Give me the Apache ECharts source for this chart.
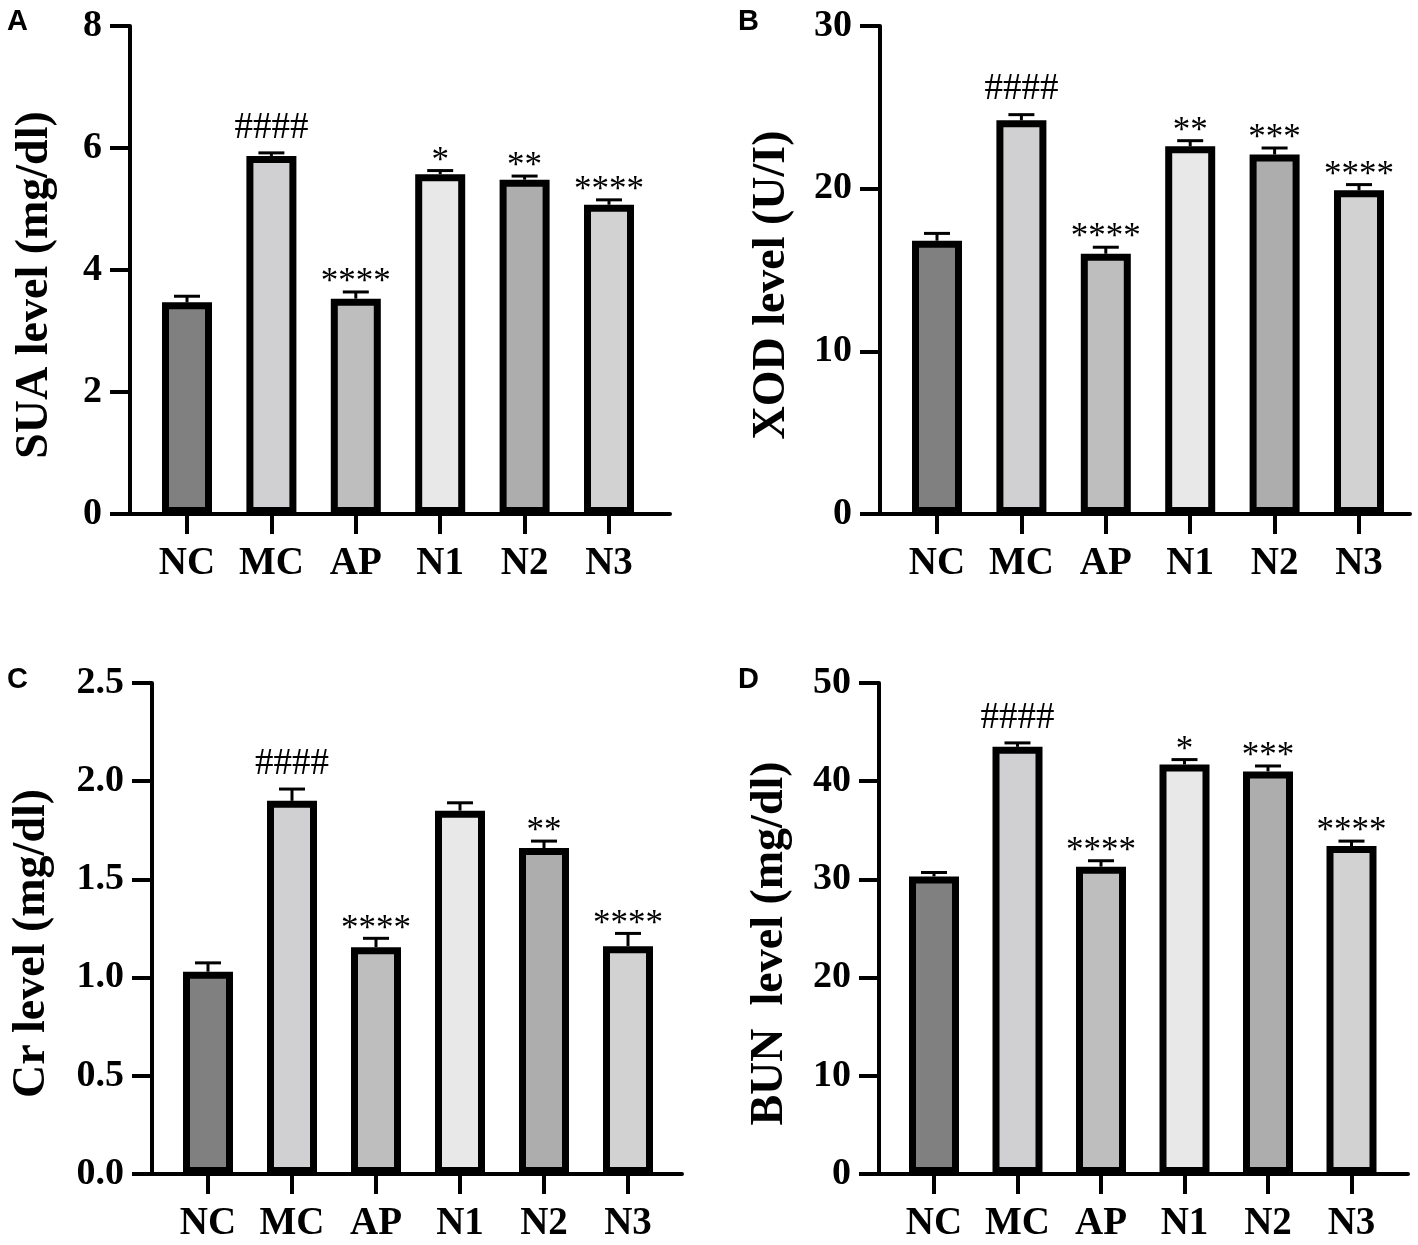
<!DOCTYPE html>
<html lang="en">
<head>
    <meta charset="utf-8">
    <title>SUA / XOD / Cr / BUN</title>
    <script src="https://cdn.jsdelivr.net/npm/echarts@6/dist/echarts.min.js"></script>
    <style>
        html, body { margin: 0; padding: 0; background: #fff; }
        #main { width: 1418px; height: 1245px; }
    </style>
</head>
<body>
<div id="main"></div>
<script type="text/javascript">
    var categories = ['NC', 'MC', 'AP', 'N1', 'N2', 'N3'];
    var barColors = ['#808080', '#d0d0d2', '#bebebe', '#e8e8e8', '#adadad', '#d2d2d2'];

    // A: SUA
    var suaMean = [3.47, 5.87, 3.53, 5.57, 5.48, 5.07];
    var suaErr = [0.10, 0.05, 0.11, 0.06, 0.06, 0.08];
    var suaMarks = ['', '####', '****', '*', '**', '****'];

    // B: XOD
    var xodMean = [16.8, 24.2, 16.0, 22.6, 22.1, 19.9];
    var xodErr = [0.45, 0.35, 0.40, 0.35, 0.40, 0.35];
    var xodMarks = ['', '####', '****', '**', '***', '****'];

    // C: Cr
    var crMean = [1.03, 1.90, 1.155, 1.85, 1.66, 1.16];
    var crErr = [0.045, 0.06, 0.045, 0.04, 0.035, 0.065];
    var crMarks = ['', '####', '****', '', '**', '****'];

    // D: BUN
    var bunMean = [30.3, 43.5, 31.3, 41.7, 41.0, 33.4];
    var bunErr = [0.4, 0.4, 0.6, 0.5, 0.55, 0.5];
    var bunMarks = ['', '####', '****', '*', '***', '****'];

    var serif = '"Liberation Serif", "Times New Roman", serif';

    // panel layout in px: letter pos, y axis x, first bar x, bar step, x axis end, top, bottom
    var panels = [
        {letter: 'A', lx: 7, ly: 7, name: 'SUA level (mg/dl)', mean: suaMean, err: suaErr, marks: suaMarks,
         max: 8, interval: 2, digits: 0, ax: 130, first: 187, step: 84.4, end: 670, top: 26, bottom: 514, gap: 72},
        {letter: 'B', lx: 738, ly: 7, name: 'XOD level (U/I)', mean: xodMean, err: xodErr, marks: xodMarks,
         max: 30, interval: 10, digits: 0, ax: 880, first: 937, step: 84.4, end: 1410, top: 26, bottom: 514, gap: 85},
        {letter: 'C', lx: 7, ly: 665, name: 'Cr level (mg/dl)', mean: crMean, err: crErr, marks: crMarks,
         max: 2.5, interval: 0.5, digits: 1, ax: 152, first: 208, step: 84, end: 682, top: 683, bottom: 1174, gap: 97},
        {letter: 'D', lx: 738, ly: 665, name: 'BUN  level (mg/dl)', mean: bunMean, err: bunErr, marks: bunMarks,
         max: 50, interval: 10, digits: 0, ax: 879, first: 934, step: 83.5, end: 1408, top: 683, bottom: 1174, gap: 86}
    ];

    var idx = categories.map(function (c, i) { return i; });

    var option = {
        animation: false,
        backgroundColor: '#fff',
        title: [],
        grid: [],
        xAxis: [],
        yAxis: [],
        series: []
    };

    panels.forEach(function (p, k) {
        option.title.push({
            text: p.letter, left: p.lx, top: p.ly, padding: 0,
            textStyle: {fontFamily: '"Liberation Sans", Arial, sans-serif', fontWeight: 'bold', fontSize: 29, color: '#000'}
        });
        option.grid.push({
            left: p.ax, top: p.top, width: p.end - p.ax, height: p.bottom - p.top
        });
        option.xAxis.push({
            type: 'value',
            gridIndex: k,
            min: -(p.first - p.ax) / p.step,
            max: 5 + (p.end - (p.first + 5 * p.step)) / p.step,
            splitLine: {show: false},
            axisLine: {show: true, onZero: false, lineStyle: {color: '#000', width: 4}},
            axisTick: {show: true, customValues: idx, length: 20, lineStyle: {color: '#000', width: 4}},
            axisLabel: {
                show: true, customValues: idx, margin: 30,
                formatter: function (v) { return categories[Math.round(v)] || ''; },
                fontFamily: serif, fontWeight: 'bold', fontSize: 39, color: '#000'
            }
        });
        option.yAxis.push({
            type: 'value',
            gridIndex: k,
            min: 0, max: p.max, interval: p.interval,
            name: p.name,
            nameLocation: 'middle',
            nameGap: p.gap,
            nameTextStyle: {fontFamily: serif, fontWeight: 'bold', fontSize: 46, color: '#000', padding: [0, 30, 0, 0]},
            splitLine: {show: false},
            axisLine: {show: true, onZero: false, lineStyle: {color: '#000', width: 4}},
            axisTick: {show: true, length: 20, lineStyle: {color: '#000', width: 4}},
            axisLabel: {
                margin: 28,
                formatter: function (v) { return v.toFixed(p.digits); },
                fontFamily: serif, fontWeight: 'bold', fontSize: 38, color: '#000'
            }
        });
        option.series.push({
            type: 'bar',
            xAxisIndex: k, yAxisIndex: k,
            barWidth: 50,
            data: p.mean.map(function (v, i) {
                return {value: [i, v], itemStyle: {color: barColors[i]}};
            }),
            itemStyle: {borderColor: '#000', borderWidth: 7},
            z: 2
        });
        option.series.push({
            type: 'custom',
            xAxisIndex: k, yAxisIndex: k,
            clip: false,
            z: 3,
            data: p.mean.map(function (v, i) { return [i, v, p.err[i]]; }),
            renderItem: function (params, api) {
                var i = api.value(0), v = api.value(1), e = api.value(2);
                var base = api.coord([i, v]);
                var tip = api.coord([i, v + e]);
                var mark = p.marks[params.dataIndex];
                var kids = [
                    {type: 'line', shape: {x1: base[0], y1: base[1], x2: tip[0], y2: tip[1]},
                     style: {stroke: '#000', lineWidth: 3}},
                    {type: 'line', shape: {x1: tip[0] - 13, y1: tip[1], x2: tip[0] + 13, y2: tip[1]},
                     style: {stroke: '#000', lineWidth: 3}}
                ];
                if (mark) {
                    var isHash = mark.charAt(0) === '#';
                    kids.push({
                        type: 'text',
                        style: {
                            text: mark, x: tip[0], y: tip[1] - (isHash ? 25 : 9),
                            align: 'center', verticalAlign: 'middle',
                            font: (isHash ? '37px ' : '35px ') + serif, fill: '#000'
                        }
                    });
                }
                return {type: 'group', children: kids};
            }
        });
    });

    var myChart = echarts.init(document.getElementById('main'));
    myChart.setOption(option);
</script>
</body>
</html>
